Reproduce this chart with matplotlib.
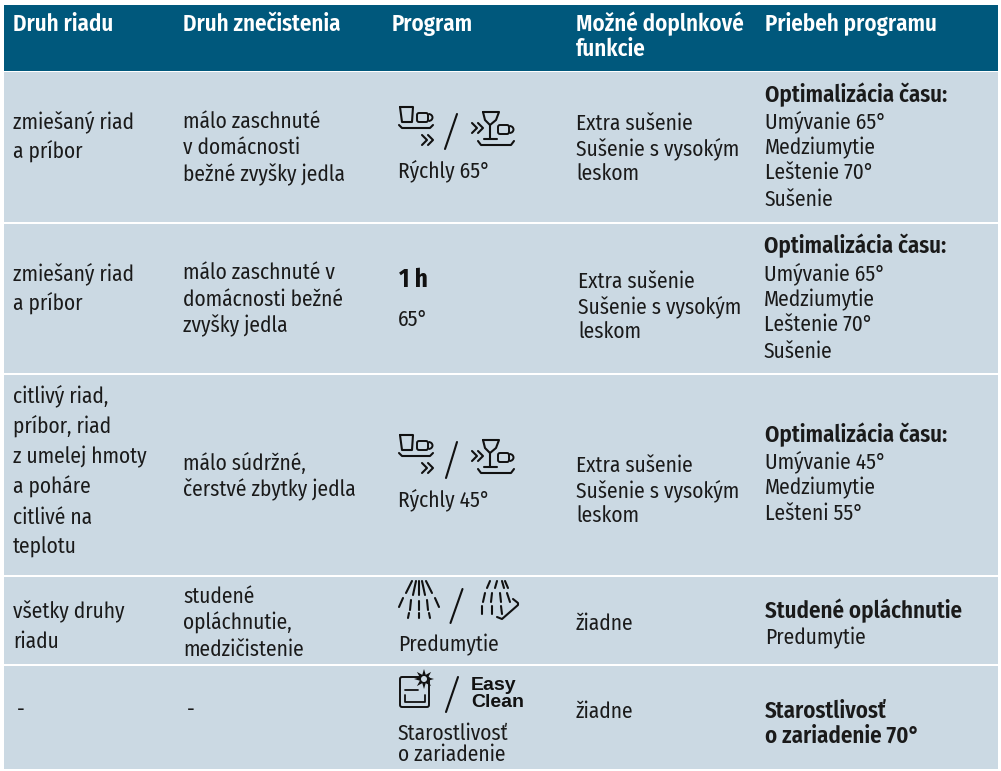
import matplotlib
matplotlib.use('Agg')
import matplotlib.pyplot as plt
import numpy as np
from matplotlib.patches import Rectangle, Arc, FancyBboxPatch, Polygon, Circle

W, H = 1001, 771

HEADER_COLOR = '#00587c'
ROW_COLOR = '#cbd9e3'
TEXT_COLOR = '#1a1a1a'

headers = ['Druh riadu', 'Druh znečistenia', 'Program', 'Možné doplnkové\nfunkcie', 'Priebeh programu']
header_x = [13, 183, 392, 576, 765]

# top and bottom of the rows, in pixels
row_edges = [(72, 222), (224, 373), (375, 575), (577, 664), (666, 769)]

col_a = ['zmiešaný riad\na príbor', 'zmiešaný riad\na príbor',
         'citlivý riad,\npríbor, riad\nz umelej hmoty\na poháre\ncitlivé na\nteplotu',
         'všetky druhy\nriadu', '-']
col_a_y = [128, 280, 402, 618, 716]
col_a_x = [13, 13, 13, 13, 17]
col_b = ['málo zaschnuté\nv domácnosti\nbežné zvyšky jedla', 'málo zaschnuté v\ndomácnosti bežné\nzvyšky jedla',
         'málo súdržné,\nčerstvé zbytky jedla', 'studené\nopláchnutie,\nmedzičistenie', '-']
col_b_y = [128, 279, 470, 603, 716]
col_b_x = [183, 183, 183, 183, 187]
col_d = ['Extra sušenie\nSušenie s vysokým\nleskom', 'Extra sušenie\nSušenie s vysokým\nleskom',
         'Extra sušenie\nSušenie s vysokým\nleskom', 'žiadne', 'žiadne']
col_d_x = [576, 578, 576, 576, 576]
col_d_y = [130, 288, 472, 630, 718]
col_e_head = ['Optimalizácia času:', 'Optimalizácia času:', 'Optimalizácia času:', 'Studené opláchnutie', 'Starostlivosť\no zariadenie 70°']
col_e_head_y = [102, 253, 442, 618, 718]
col_e_body = ['Umývanie 65°\nMedziumytie\nLeštenie 70°\nSušenie', 'Umývanie 65°\nMedziumytie\nLeštenie 70°\nSušenie',
              'Umývanie 45°\nMedziumytie\nLešteni 55°', 'Predumytie', '']
col_e_body_y = [128, 280, 468, 644, 0]
col_e_x = [765, 764, 765, 765, 765]
program_names = ['Rýchly 65°', '65°', 'Rýchly 45°', 'Predumytie', 'Starostlivosť\no zariadenie']
program_y = [177, 326, 506, 651, 740]

plt.rcParams['font.family'] = ['Fira Sans Condensed', 'Open Sans', 'DejaVu Sans']

fig = plt.figure(figsize=(W / 100, H / 100), dpi=100)
ax = fig.add_axes([0, 0, 1, 1])
ax.set_xlim(0, W)
ax.set_ylim(H, 0)
ax.axis('off')


def txt(x, y, s, size=15.4, weight='normal', color=TEXT_COLOR, pitch=26):
    # y is the baseline of the first line
    for i, part in enumerate(s.split('\n')):
        ax.text(x, y + i * pitch, part, fontsize=size, fontweight=weight, color=color,
                va='baseline', ha='left')


def line(xs, ys, lw=1.5):
    ax.plot(xs, ys, color='#111111', lw=lw, solid_capstyle='round', solid_joinstyle='round')


def chevrons(x, y, s=5):
    for dx in (0, s + 1):
        line([x + dx, x + dx + s, x + dx], [y - s, y, y + s], lw=1.5)


def cup(x, y):
    ax.add_patch(FancyBboxPatch((x, y), 11, 9, boxstyle='round,pad=0,rounding_size=2', fc='none', ec='#111111', lw=1.4))
    ax.add_patch(Arc((x + 11.5, y + 4.5), 8, 7, theta1=-90, theta2=90, color='#111111', lw=1.4))


def icon_tray_up(x, y):
    # glass, cup and tray with chevrons under them
    line([x + 1, x + 3, x + 13, x + 14, x + 1], [y, y + 15, y + 15, y, y])
    cup(x + 18, y + 6)
    line([x, x + 3, x + 31, x + 34], [y + 18, y + 21, y + 21, y + 18])
    chevrons(x + 23, y + 33)


def icon_tray_wine(x, y):
    chevrons(x, y + 21)
    line([x + 11, x + 13, x + 18, x + 24, x + 27, x + 11], [y + 5, y + 13, y + 18, y + 13, y + 5, y + 5])
    line([x + 18, x + 18], [y + 18, y + 32])
    line([x + 12, x + 25], [y + 32, y + 32])
    cup(x + 26, y + 18)
    line([x + 6, x + 9, x + 39, x + 42], [y + 34, y + 38, y + 38, y + 34])


def slash(x0, y0, x1, y1):
    line([x0, x1], [y0, y1], lw=1.5)


def spray_a(cx, y):
    line([cx, cx], [y, y + 14]); line([cx, cx], [y + 20, y + 29]); line([cx, cx], [y + 32, y + 37])
    for side in (-1, 1):
        line([cx + side * 3, cx + side * 6], [y, y + 14])
        line([cx + side * 8, cx + side * 9], [y + 19, y + 29])
        line([cx + side * 10, cx + side * 11], [y + 32, y + 37])
        line([cx + side * 7, cx + side * 13], [y, y + 12])
        line([cx + side * 16, cx + side * 20], [y + 17, y + 26])


def spray_b(x, y):
    for dx0, dx1 in ((25, 22), (32, 30), (37, 39), (40, 43)):
        line([x + dx0, x + dx1], [y, y + 7])
    for dx0, dx1 in ((20, 18), (27, 26), (35, 36), (42, 45)):
        line([x + dx0, x + dx1], [y + 12, y + 21])
    for dx0, dx1 in ((17, 17), (27, 27), (36, 37)):
        line([x + dx0, x + dx1], [y + 25, y + 33])
    line([x + 48, x + 53, x + 53, x + 37, x + 32], [y + 18, y + 22, y + 24, y + 38, y + 36])


def oven(x, y):
    ax.add_patch(FancyBboxPatch((x, y), 29, 30, boxstyle='round,pad=0,rounding_size=2', fc=ROW_COLOR, ec='#111111', lw=1.4))
    line([x + 5, x + 5, x + 25, x + 25], [y + 18, y + 25, y + 25, y + 18], lw=1.3)
    line([x + 5, x + 18], [y + 13, y + 13], lw=1.3)
    # star over the top right corner
    cx, cy = x + 24, y + 2
    ang = np.arange(16) * np.pi / 8
    rad = np.where(np.arange(16) % 2 == 0, 10, 4.5)
    ax.add_patch(Polygon(np.c_[cx + rad * np.cos(ang), cy + rad * np.sin(ang)], fc='#111111', ec='none', zorder=3))
    ax.add_patch(Circle((cx, cy), 3, fc=ROW_COLOR, ec='none', zorder=4))


ax.add_patch(Rectangle((4, 5), W - 7, 65.5, fc=HEADER_COLOR, ec='none'))
for top, bottom in row_edges:
    ax.add_patch(Rectangle((4, top), W - 7, bottom - top, fc=ROW_COLOR, ec='none'))

for x, h in zip(header_x, headers):
    txt(x, 31, h, size=16.5, weight=600, color='white', pitch=25)

for i in range(5):
    txt(col_a_x[i], col_a_y[i], col_a[i], pitch=30.4 if i == 2 else 30)
    txt(col_b_x[i], col_b_y[i], col_b[i], pitch=26.5)
    txt(col_d_x[i], col_d_y[i], col_d[i], pitch=25)
    txt(col_e_x[i], col_e_head_y[i], col_e_head[i], size=16.5, weight=600, pitch=25)
    if col_e_body[i]:
        txt(col_e_x[i], col_e_body_y[i], col_e_body[i], pitch=26)
    txt(398, program_y[i], program_names[i], pitch=21)

# program icons
icon_tray_up(399, 107)
slash(457, 114, 445, 149)
icon_tray_wine(472, 107)

ax.text(399, 287, '1 h', fontsize=18, fontweight='bold', color='#111111', va='baseline')

icon_tray_up(399, 435)
slash(457, 442, 446, 478)
icon_tray_wine(472, 435)

spray_a(419, 581)
slash(462.5, 589, 450.5, 623)
spray_b(465, 581)

oven(400, 677)
slash(458, 677, 446, 712)
ax.text(471, 690, 'Easy', fontsize=14, fontweight='bold', color='#111111', va='baseline', family='Liberation Sans')
ax.text(471, 707, 'Clean', fontsize=14, fontweight='bold', color='#111111', va='baseline', family='Liberation Sans')

fig.savefig('out.png', dpi=100, facecolor='white')
